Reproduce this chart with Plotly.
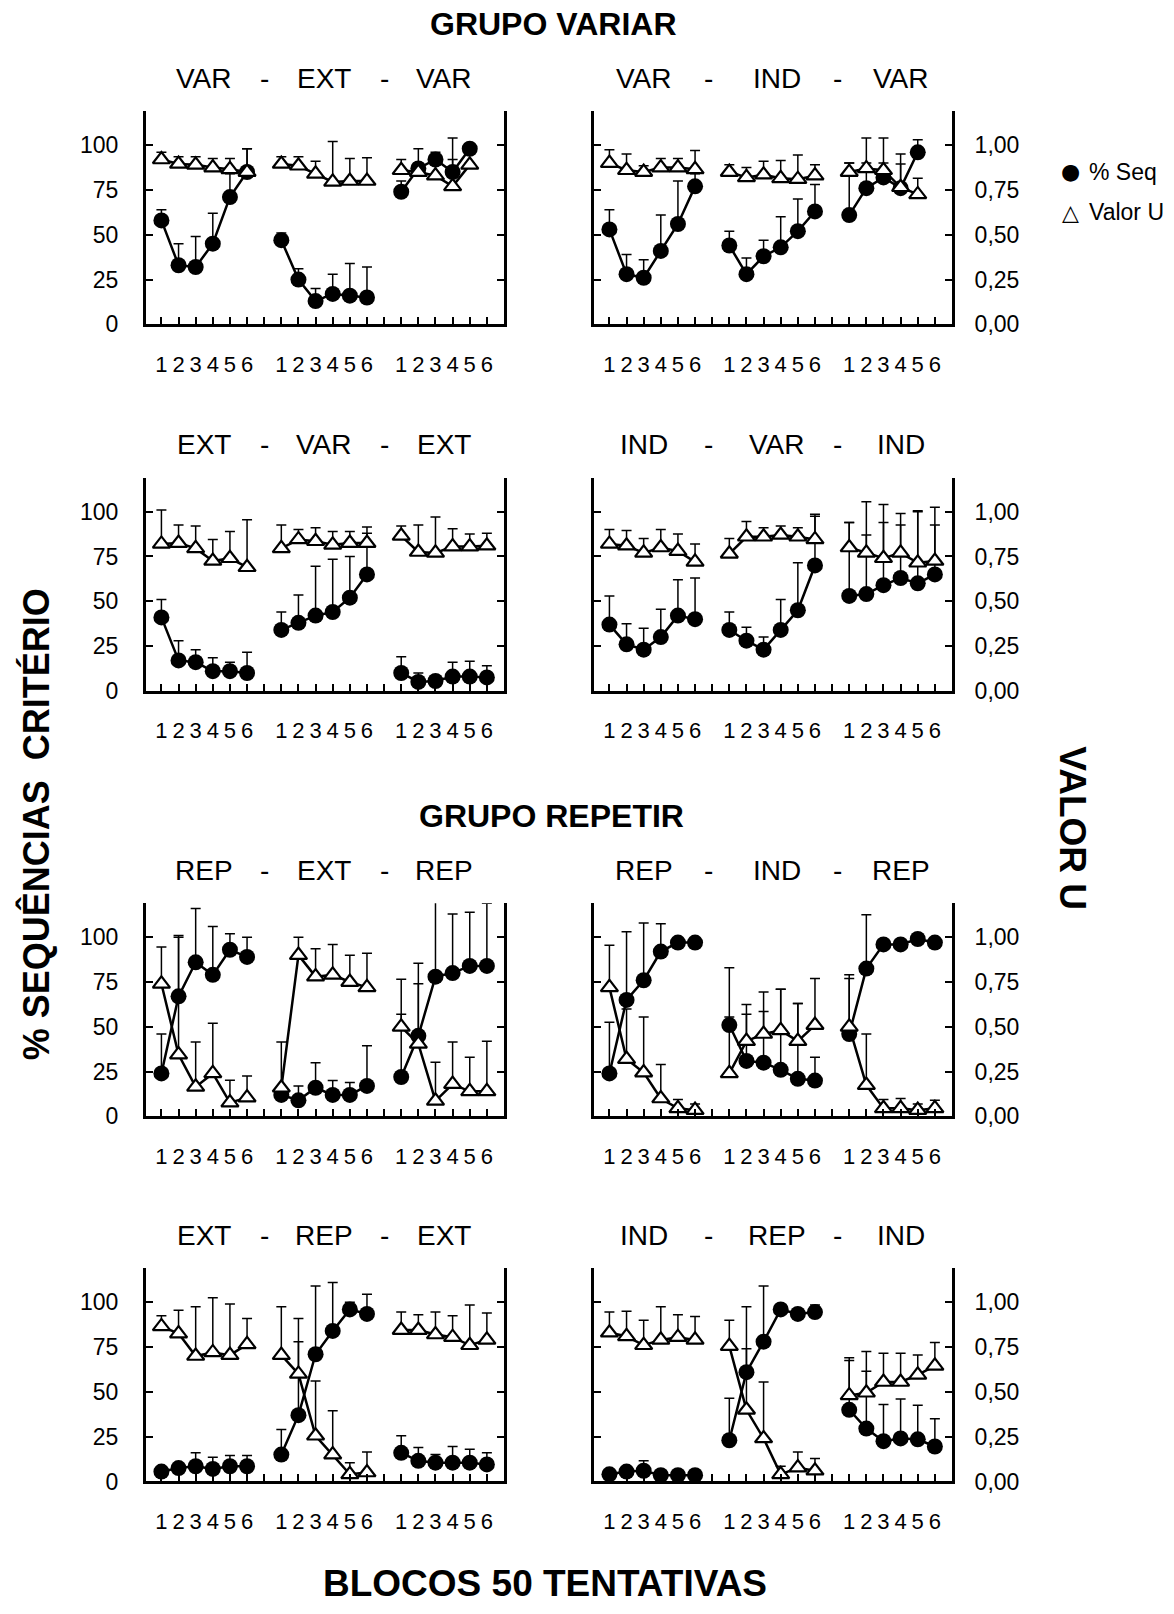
import plotly.graph_objects as go

# ---------------- data ----------------
blocks = ["1", "2", "3", "4", "5", "6"]
group_titles = ["GRUPO VARIAR", "GRUPO REPETIR"]
panel_phases = [
    ["VAR", "EXT", "VAR"], ["VAR", "IND", "VAR"],
    ["EXT", "VAR", "EXT"], ["IND", "VAR", "IND"],
    ["REP", "EXT", "REP"], ["REP", "IND", "REP"],
    ["EXT", "REP", "EXT"], ["IND", "REP", "IND"],
]
pct_ticks = [0, 25, 50, 75, 100]
u_ticks = [0, 0.25, 0.5, 0.75, 1.0]
u_tick_labels = ["0,00", "0,25", "0,50", "0,75", "1,00"]
series_names = ["% Seq", "Valor U"]

# % Seq (0-100) and Valor U (0-1); 3 phases x 6 blocks; *_err = upper error bar
seq_p1 = [58, 33, 32, 45, 71, 85, 47, 25, 13, 17, 16, 15, 74, 87, 92, 85, 98, None]
seqerr_p1 = [6, 12, 17, 17, 13, 13, 4, 6, 7, 11, 18, 17, 6, 3, 4, 19, 2, None]
u_p1 = [0.92, 0.895, 0.89, 0.875, 0.865, 0.85, 0.895, 0.885, 0.84, 0.795, 0.80, 0.80, 0.86, 0.85, 0.83, 0.77, 0.89, None]
uerr_p1 = [0.04, 0.04, 0.045, 0.05, 0.06, 0.13, 0.04, 0.05, 0.07, 0.225, 0.125, 0.13, 0.06, 0.13, 0.09, 0.15, 0.01, None]

seq_p2 = [53, 28, 26, 41, 56, 77, 44, 28, 38, 43, 52, 63, 61, 76, 82, 76, 96, None]
seqerr_p2 = [11, 11, 10, 20, 24, 7, 8, 9, 9, 17, 18, 15, 29, 28, 22, 19, 7, None]
u_p2 = [0.90, 0.86, 0.85, 0.875, 0.875, 0.865, 0.85, 0.82, 0.835, 0.815, 0.81, 0.83, 0.85, 0.87, 0.86, 0.765, 0.725, None]
uerr_p2 = [0.075, 0.09, 0.035, 0.05, 0.05, 0.105, 0.04, 0.055, 0.075, 0.10, 0.135, 0.06, 0.05, 0.03, 0.04, 0.13, 0.09, None]

seq_p3 = [41, 17, 16, 11, 11, 10, 34, 38, 42, 44, 52, 65, 10, 5, 5.5, 8, 8, 7.5]
seqerr_p3 = [10, 11, 7, 7.5, 5, 11.5, 10, 15.5, 27.5, 29.5, 23, 23, 9, 5, 1.5, 8, 8.5, 6.5]
u_p3 = [0.82, 0.825, 0.795, 0.725, 0.74, 0.69, 0.795, 0.845, 0.835, 0.815, 0.825, 0.825, 0.865, 0.775, 0.77, 0.805, 0.805, 0.81]
uerr_p3 = [0.19, 0.10, 0.125, 0.12, 0.15, 0.265, 0.13, 0.055, 0.075, 0.075, 0.065, 0.09, 0.055, 0.15, 0.20, 0.10, 0.07, 0.07]

seq_p4 = [37, 26, 23, 30, 42, 40, 34, 28, 23, 34, 45, 70, 53, 54, 59, 63, 60, 65]
seqerr_p4 = [16, 11.5, 12, 15.5, 20, 23, 10, 7.5, 7, 17, 26.5, 28.5, 41, 33, 35, 29.5, 40, 27.5]
u_p4 = [0.82, 0.81, 0.77, 0.80, 0.78, 0.72, 0.765, 0.86, 0.86, 0.87, 0.86, 0.845, 0.80, 0.77, 0.74, 0.77, 0.715, 0.725]
uerr_p4 = [0.08, 0.085, 0.08, 0.10, 0.095, 0.10, 0.085, 0.085, 0.05, 0.05, 0.05, 0.13, 0.14, 0.285, 0.30, 0.22, 0.29, 0.30]

seq_p5 = [24, 67, 86, 79, 93, 89, 12, 9, 16, 12, 12, 17, 22, 45, 78, 80, 84, 84]
seqerr_p5 = [22, 34, 30, 27, 9, 11, 2, 8, 14, 8, 7, 22.5, 35, 29, 42, 33, 30, 35]
u_p5 = [0.74, 0.345, 0.165, 0.24, 0.077, 0.105, 0.16, 0.90, 0.78, 0.79, 0.75, 0.72, 0.50, 0.405, 0.087, 0.18, 0.14, 0.14]
uerr_p5 = [0.205, 0.655, 0.25, 0.28, 0.125, 0.12, 0.255, 0.10, 0.155, 0.17, 0.15, 0.19, 0.265, 0.45, 0.215, 0.235, 0.19, 0.28]

seq_p6 = [24, 65, 76, 92, 97, 97, 51, 31, 30, 26, 21, 20, 46, 82.5, 96, 96, 99, 97]
seqerr_p6 = [28.5, 38, 32, 15.5, 0, 0, 32, 26, 28.5, 45, 42, 13, 33, 30, 0, 0, 0, 0]
u_p6 = [0.72, 0.32, 0.245, 0.10, 0.045, 0.035, 0.24, 0.42, 0.46, 0.48, 0.42, 0.51, 0.50, 0.175, 0.045, 0.045, 0.035, 0.045]
uerr_p6 = [0.235, 0.28, 0.31, 0.19, 0.05, 0.035, 0.315, 0.205, 0.235, 0.23, 0.21, 0.26, 0.27, 0.285, 0.05, 0.055, 0.035, 0.045]

seq_p7 = [5.5, 7.5, 8.5, 7, 8.5, 8.5, 15, 37, 71, 84, 96, 93.5, 16, 11.5, 10.5, 10.5, 10.5, 9.5]
seqerr_p7 = [1.5, 1.5, 7.5, 6.5, 6, 6, 14, 41, 38, 27, 4, 11, 9.5, 7.5, 4.5, 9, 7.5, 6.5]
u_p7 = [0.865, 0.825, 0.70, 0.72, 0.705, 0.765, 0.705, 0.60, 0.255, 0.15, 0.04, 0.05, 0.845, 0.845, 0.82, 0.805, 0.76, 0.79]
uerr_p7 = [0.06, 0.13, 0.275, 0.305, 0.285, 0.145, 0.27, 0.31, 0.305, 0.245, 0.065, 0.115, 0.10, 0.085, 0.125, 0.12, 0.225, 0.15]

seq_p8 = [4, 5.5, 6, 3.5, 3.5, 3.5, 23, 61, 78, 96, 93.5, 94.5, 40, 29.5, 22.5, 24, 23.5, 19.5]
seqerr_p8 = [1, 1, 5.5, 0.5, 0.5, 0.5, 23.5, 36.5, 31, 1, 1.5, 4, 29, 32, 20.5, 22, 19, 15.5]
u_p8 = [0.83, 0.81, 0.76, 0.79, 0.805, 0.79, 0.755, 0.40, 0.24, 0.04, 0.077, 0.06, 0.48, 0.495, 0.555, 0.555, 0.595, 0.645]
uerr_p8 = [0.115, 0.14, 0.14, 0.185, 0.125, 0.13, 0.145, 0.34, 0.315, 0.045, 0.087, 0.068, 0.195, 0.23, 0.16, 0.16, 0.11, 0.13]

panels = [
    (seq_p1, seqerr_p1, u_p1, uerr_p1), (seq_p2, seqerr_p2, u_p2, uerr_p2),
    (seq_p3, seqerr_p3, u_p3, uerr_p3), (seq_p4, seqerr_p4, u_p4, uerr_p4),
    (seq_p5, seqerr_p5, u_p5, uerr_p5), (seq_p6, seqerr_p6, u_p6, uerr_p6),
    (seq_p7, seqerr_p7, u_p7, uerr_p7), (seq_p8, seqerr_p8, u_p8, uerr_p8),
]

# ---------------- layout constants ----------------
W, H = 1174, 1614
FONT = "Liberation Sans, Arial, sans-serif"
col_left = [146, 594]
row_bottom = [327, 696.5, 1125.5, 1493.5]
plot_w, plot_h = 358, 215
nb = len(blocks)
gap = 1
x_range = [0.1, 3 * (nb + gap)]


def split_phases(vals):
    out = []
    for ph in range(3):
        out += list(vals[ph * nb:(ph + 1) * nb]) + [None]
    return out[:-1]


xs = split_phases([ph * (nb + gap) + b + 1 for ph in range(3) for b in range(nb)])
tickvals = list(range(1, 3 * (nb + gap)))
ticktext = []
for ph in range(3):
    ticktext += blocks + ([""] if ph < 2 else [])

phase_centers = [ph * (nb + gap) + (nb + 1) / 2 for ph in range(3)]
dash_pos = [(nb + gap) * (ph + 1) for ph in range(2)]
title_offsets = [[0, 0, 0, 0, 0], [-0.5, -0.2, 0.3, 0.3, 0.5]]


def sfx(n):
    return "" if n == 1 else str(n)


fig = go.Figure()
layout = dict(
    width=W, height=H, margin=dict(l=0, r=0, t=0, b=0),
    paper_bgcolor="white", plot_bgcolor="white", showlegend=False,
    font=dict(family=FONT, color="black"),
)
annotations = []

for i, (seq, seqerr, u, uerr) in enumerate(panels):
    r, c = divmod(i, 2)
    xn = i + 1
    yp = 2 * i + 1
    yu = 2 * i + 2
    x0 = col_left[c] / W
    x1 = (col_left[c] + plot_w) / W
    y0 = (H - row_bottom[r]) / H
    y1 = (H - row_bottom[r] + plot_h) / H

    fig.add_trace(go.Scatter(
        x=xs, y=split_phases(u), xaxis="x" + sfx(xn), yaxis="y" + sfx(yu),
        mode="lines+markers", name=series_names[1], connectgaps=False, cliponaxis=False,
        line=dict(color="black", width=2.5),
        marker=dict(symbol="triangle-up", size=15, color="white", line=dict(color="black", width=2.2)),
        error_y=dict(type="data", symmetric=False, array=split_phases(uerr),
                     arrayminus=[0] * len(xs), color="black", thickness=1.5, width=5),
    ))
    fig.add_trace(go.Scatter(
        x=xs, y=split_phases(seq), xaxis="x" + sfx(xn), yaxis="y" + sfx(yp),
        mode="lines+markers", name=series_names[0], connectgaps=False, cliponaxis=False,
        line=dict(color="black", width=2.5),
        marker=dict(symbol="circle", size=16, color="black"),
        error_y=dict(type="data", symmetric=False, array=split_phases(seqerr),
                     arrayminus=[0] * len(xs), color="black", thickness=1.5, width=5),
    ))

    layout["xaxis" + sfx(xn)] = dict(
        domain=[x0, x1], anchor="y" + sfx(yp), range=x_range,
        tickmode="array", tickvals=tickvals, ticktext=ticktext,
        ticks="inside", ticklen=7, tickwidth=2, tickcolor="black",
        showline=True, linewidth=3, linecolor="black",
        showgrid=False, zeroline=False,
        tickfont=dict(size=22, family=FONT, color="black"), ticklabelstandoff=18,
    )
    axis_common = dict(
        ticks="inside", ticklen=7, tickwidth=2, tickcolor="black",
        showline=True, linewidth=3, linecolor="black", mirror="ticks",
        showgrid=False, zeroline=False,
        tickfont=dict(size=23, family=FONT, color="black"),
    )
    pct_axis = dict(domain=[y0, y1], anchor="x" + sfx(xn), range=[0, 119],
                    showgrid=False, zeroline=False)
    u_axis = dict(overlaying="y" + sfx(yp), anchor="x" + sfx(xn), range=[0, 1.19],
                  side="right", showgrid=False, zeroline=False)
    if c == 0:
        pct_axis.update(axis_common, tickmode="array", tickvals=pct_ticks,
                        ticklabelstandoff=20, side="left")
        u_axis.update(visible=False)
    else:
        pct_axis.update(visible=False)
        u_axis.update(axis_common, tickmode="array", tickvals=u_ticks,
                      ticktext=u_tick_labels, ticklabelstandoff=15)
    layout["yaxis" + sfx(yp)] = pct_axis
    layout["yaxis" + sfx(yu)] = u_axis

    # panel subtitle "A - B - C"
    ty = (H - row_bottom[r] + 248) / H
    positions = [phase_centers[0], dash_pos[0], phase_centers[1], dash_pos[1], phase_centers[2]]
    labels = [panel_phases[i][0], "-", panel_phases[i][1], "-", panel_phases[i][2]]
    for j, (px, lab) in enumerate(zip(positions, labels)):
        annotations.append(dict(
            x=px + title_offsets[c][j], y=ty, xref="x" + sfx(xn), yref="paper",
            text=lab, showarrow=False, xanchor="center", yanchor="middle",
            font=dict(size=28, family=FONT, color="black"),
        ))

# group titles and axis titles
annotations += [
    dict(x=553 / W, y=1 - 24 / H, text="<b>" + group_titles[0] + "</b>", font_size=32),
    dict(x=551 / W, y=1 - 823 / H, text="<b>" + group_titles[1] + "</b>", font_size=32),
    dict(x=545 / W, y=1 - 1596 / H, text="<b>BLOCOS 50 TENTATIVAS</b>", font_size=37),
    dict(x=36 / W, y=1 - 831 / H, text="<b>% SEQUÊNCIAS  CRITÉRIO</b>", textangle=-90, font_size=36),
    dict(x=1073 / W, y=1 - 835 / H, text="<b>VALOR U</b>", textangle=90, font_size=37),
]
for a in annotations[-5:]:
    a.update(xref="paper", yref="paper", showarrow=False, xanchor="center", yanchor="middle")
    fs = a.pop("font_size", 30)
    a["font"] = dict(size=fs, family=FONT, color="black")

# legend (symbols and labels as text)
legend_items = [
    (1070, 173, "●", 22, series_names[0]),
    (1070, 214, "△", 22, series_names[1]),
]
for lx, ly, sym, sym_size, lab in legend_items:
    annotations.append(dict(
        x=lx / W, y=1 - ly / H, text=sym, xref="paper", yref="paper", showarrow=False,
        xanchor="center", yanchor="middle", font=dict(size=sym_size, family="DejaVu Sans", color="black"),
    ))
    annotations.append(dict(
        x=(lx + 17) / W, y=1 - ly / H, text=lab, xref="paper", yref="paper", showarrow=False,
        xanchor="left", yanchor="middle", font=dict(size=23, family=FONT, color="black"),
    ))

layout["annotations"] = annotations
fig.update_layout(**layout)
fig.write_html("out.html")
